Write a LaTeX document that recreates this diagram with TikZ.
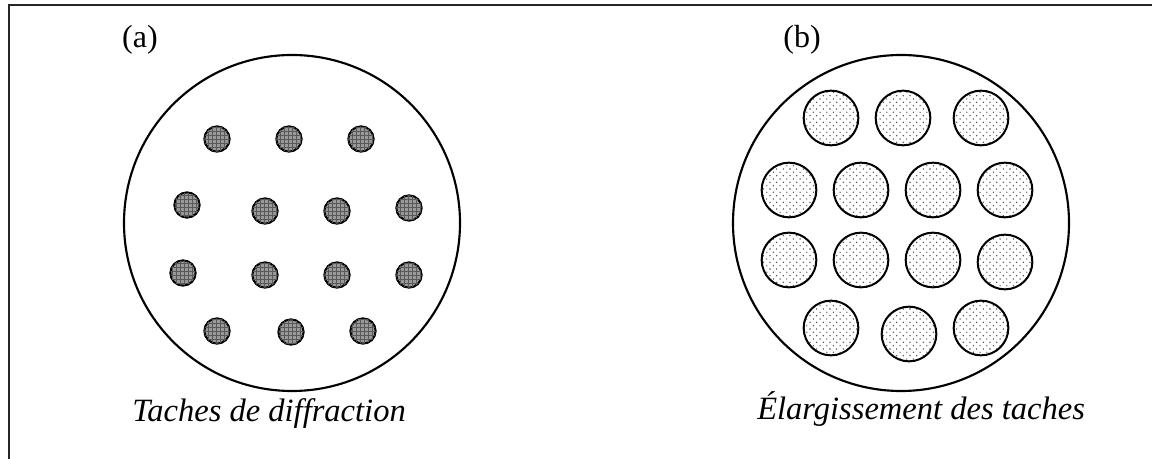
\documentclass[tikz,border=0pt]{standalone}
\usepackage{fontspec}
\setmainfont{Liberation Serif}
\usetikzlibrary{patterns,patterns.meta}
\tikzdeclarepattern{
  name=stipple,
  type=uncolored,
  bounding box={(-0.3pt,-0.3pt) and (5.3pt,5.3pt)},
  tile size={(5pt,5pt)},
  code={
    \pgfpathcircle{\pgfpoint{0pt}{0pt}}{0.6pt}
    \pgfpathcircle{\pgfpoint{2.5pt}{2.5pt}}{0.6pt}
    \pgfusepath{fill}
  }
}
\begin{document}
\begin{tikzpicture}[x=0.75pt,y=-0.75pt,
  frameline/.style={line width=1.7pt,black!85},
  bigdisc/.style={circle,draw,line width=1.6pt,inner sep=0pt,minimum size=252pt},
  spot/.style={circle,draw,line width=1.5pt,inner sep=0pt,minimum size=19pt,
    fill=gray!80,postaction={pattern=grid,pattern color=black!65}},
  widespot/.style={circle,draw,line width=1.5pt,inner sep=0pt,minimum size=41pt,
    pattern=stipple,pattern color=black!70},
  lab/.style={font=\fontsize{24}{28}\selectfont,inner sep=0pt},
  captext/.style={font=\fontsize{24.4}{28}\selectfont\itshape,inner sep=0pt,anchor=base west}]
\useasboundingbox (0,0) rectangle (1152,459);
\coordinate (ftop) at (1152,5);
\coordinate (fcorner) at (9,5);
\coordinate (fbot) at (9,459);
\draw[frameline] (ftop) -- (fcorner) -- (fbot);

% panel (a)
\node[bigdisc] (A) at (292,223) {};
\node[lab] (la) at (140,40) {(a)};
\foreach \n/\x/\y in {a1/217/139, a2/289/139, a3/361/139,
  a4/187/205, a5/265/211, a6/337/211, a7/409/208,
  a8/183/273, a9/265/275, a10/337/275, a11/409/275,
  a12/217/331, a13/291/332, a14/363/331}
  \node[spot] (\n) at (\x,\y) {};
\node[captext] (ca) at (132,421) {Taches de diffraction};

% panel (b)
\node[bigdisc] (B) at (901,223) {};
\node[lab] (lb) at (802,40) {(b)};
\foreach \n/\x/\y in {b1/831/118, b2/903/118, b3/981/118,
  b4/789/190, b5/861/190, b6/933/190, b7/1005/190,
  b8/789/260, b9/861/260, b10/933/260, b11/1005/262,
  b12/831/328, b13/909/334, b14/981/328}
  \node[widespot] (\n) at (\x,\y) {};
\node[captext] (cb) at (757,419) {Élargissement des taches};
\end{tikzpicture}
\end{document}
